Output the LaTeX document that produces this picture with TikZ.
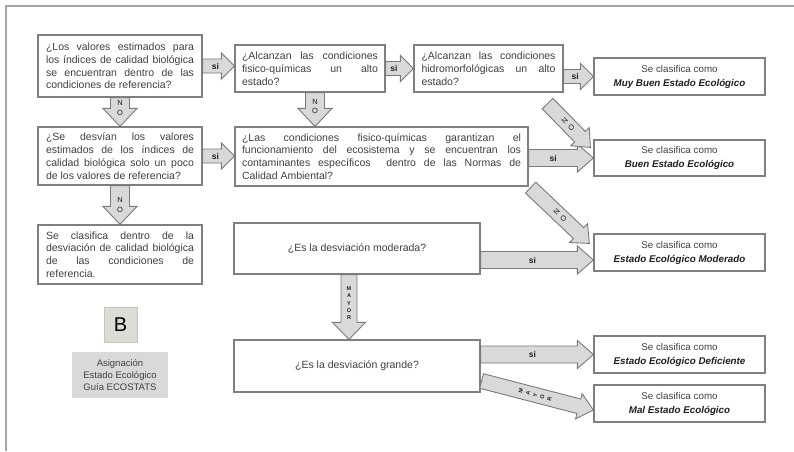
\documentclass[tikz,border=0pt]{standalone}
\usepackage{fontspec}
\setmainfont{Liberation Sans}
\usetikzlibrary{calc}

\definecolor{edge}{HTML}{808080}
\definecolor{txt}{HTML}{404040}
\definecolor{dark}{HTML}{202020}
\definecolor{arrowfill}{HTML}{D9D9D9}
\definecolor{arrowedge}{HTML}{7A7A7A}
\definecolor{framegray}{HTML}{A6A6A6}
\definecolor{keyfill}{HTML}{DCDCD4}
\definecolor{keyedge}{HTML}{C4C4BC}

% fonts
\newcommand{\qfont}{\fontsize{10.5}{12.8}\selectfont}
\newcommand{\rfont}{\fontsize{9.8}{14}\selectfont}
% stacked lines of a given width: justified lines and a last (ragged) line
\newcommand{\stack}[2]{\vbox{\hsize=#1\relax\spaceskip=0.28em plus 3em minus 0.05em\relax #2}}
\newcommand{\jl}[1]{\hbox to \hsize{#1}}
\newcommand{\lastline}[1]{\hbox{#1}}

\tikzset{
  qbox/.style={draw=edge, line width=1.2pt, fill=white, inner sep=0pt, font=\qfont, text=txt},
  rbox/.style={draw=edge, line width=1.2pt, fill=white, inner sep=0pt, align=center,
               font=\rfont, text=txt, minimum width=171pt, minimum height=37pt},
  barrow/.style={draw=arrowedge, fill=arrowfill, line width=0.9pt, line join=miter},
  arrowlabel/.style={inner sep=0pt, text=dark, align=center},
  silabel/.style={arrowlabel, font=\bfseries\fontsize{8.5}{9}\selectfont},
  nolabel/.style={arrowlabel, font=\fontsize{7.5}{9.5}\selectfont},
  mayorlabel/.style={arrowlabel, font=\bfseries\fontsize{5.5}{7.4}\selectfont},
}

% block arrow: #1 start, #2 tip, #3 shaft half width, #4 head half width,
% #5 head length, #6 label style, #7 label text, #8 label rotation, #9 label position
\newcommand{\blockarrow}[9]{%
  \coordinate (ba-s) at #1;
  \coordinate (ba-e) at #2;
  \coordinate (ba-h) at ($(ba-e)!#5!(ba-s)$);
  \draw[barrow] ($(ba-s)!#3!90:(ba-e)$) -- ($(ba-h)!#3!-90:(ba-s)$)
    -- ($(ba-h)!#4!-90:(ba-s)$) -- (ba-e) -- ($(ba-h)!#4!90:(ba-s)$)
    -- ($(ba-h)!#3!90:(ba-s)$) -- ($(ba-s)!#3!-90:(ba-e)$) -- cycle;
  \node[#6, rotate=#8] at ($(ba-s)!#9!(ba-e)$) {#7};
}

\begin{document}
\begin{tikzpicture}[x=1pt, y=-1pt]
\useasboundingbox (0,0) rectangle (794,451);
\fill[white] (0,0) rectangle (794,451);

% page frame
\draw[framegray, line width=1.2pt] (6,451) -- (6,6) -- (794,6);

% question boxes
\node[qbox, minimum width=164pt, minimum height=62pt] (b1) at (120,66)
  {\stack{148pt}{\jl{¿Los valores estimados para}\jl{los índices de calidad biológica}%
   \jl{se encuentran dentro de las}\lastline{condiciones de referencia?}}};
\node[qbox, minimum width=150pt, minimum height=47pt] (b2) at (310,68.5)
  {\stack{136pt}{\jl{¿Alcanzan las condiciones}\jl{fisico-químicas un alto}\lastline{estado?}}};
\node[qbox, minimum width=149pt, minimum height=47pt] (b3) at (488.5,68.5)
  {\stack{134pt}{\jl{¿Alcanzan las condiciones}\jl{hidromorfológicas un alto}\lastline{estado?}}};
\node[qbox, minimum width=164pt, minimum height=58pt] (b4) at (120,156)
  {\stack{148pt}{\jl{¿Se desvían los valores}\jl{estimados de los índices de}%
   \jl{calidad biológica solo un poco}\lastline{de los valores de referencia?}}};
\node[qbox, minimum width=293pt, minimum height=59pt] (b5) at (381.5,156.5)
  {\stack{279pt}{\jl{¿Las condiciones fisico-químicas garantizan el}%
   \jl{funcionamiento del ecosistema y se encuentran los}%
   \jl{contaminantes específicos \ dentro de las Normas de}\lastline{Calidad Ambiental?}}};
\node[qbox, minimum width=164pt, minimum height=59pt] (b6) at (120,254.5)
  {\stack{148pt}{\jl{Se clasifica dentro de la}\jl{desviación de calidad biológica}%
   \jl{de las condiciones de}\lastline{referencia.}}};
\node[qbox, minimum width=246pt, minimum height=51pt] (b7) at (357,248.5)
  {¿Es la desviación moderada?};
\node[qbox, minimum width=246pt, minimum height=52pt] (b8) at (357,366)
  {¿Es la desviación grande?};

% classification boxes
\node[rbox] (r1) at (679.5,76.5)
  {Se clasifica como\\{\color{dark}\bfseries\itshape Muy Buen Estado Ecológico}};
\node[rbox, minimum height=36pt] (r2) at (679.5,158)
  {Se clasifica como\\{\color{dark}\bfseries\itshape Buen Estado Ecológico}};
\node[rbox] (r3) at (679.5,252.5)
  {Se clasifica como\\{\color{dark}\bfseries\itshape Estado Ecológico Moderado}};
\node[rbox] (r4) at (679.5,354.5)
  {Se clasifica como\\{\color{dark}\bfseries\itshape Estado Ecológico Deficiente}};
\node[rbox] (r5) at (679.5,403.5)
  {Se clasifica como\\{\color{dark}\bfseries\itshape Mal Estado Ecológico}};

% legend
\node[draw=keyedge, fill=keyfill, line width=0.8pt, minimum width=33pt, minimum height=35pt,
      inner sep=0pt, text=black, font=\fontsize{20}{22}\selectfont] (key) at (120.5,324.5) {B};
\node[fill=arrowfill, minimum width=96pt, minimum height=46pt, inner sep=0pt, align=center,
      text=txt, font=\fontsize{9.5}{12.3}\selectfont] (guide) at (120,375)
  {Asignación\\Estado Ecológico\\Guía ECOSTATS};

% "si" arrows
\blockarrow{(b1.east)}{(b1.east -| b2.west)}{7pt}{13pt}{13pt}{silabel}{si}{0}{0.4}
\blockarrow{(b2.east)}{(b2.east -| b3.west)}{7pt}{13pt}{13pt}{silabel}{si}{0}{0.3}
\blockarrow{(b3.east |- r1.west)}{(r1.west)}{7pt}{13pt}{13pt}{silabel}{si}{0}{0.39}
\blockarrow{(b4.east)}{(b4.east -| b5.west)}{7pt}{13pt}{13pt}{silabel}{si}{0}{0.4}
\blockarrow{(b5.east |- r2.west)}{(r2.west)}{8.5pt}{14pt}{16pt}{silabel}{si}{0}{0.38}
\coordinate (m3) at ($(r3.west)+(0,7.5)$);
\blockarrow{(b7.east |- m3)}{(m3)}{8.5pt}{14pt}{16pt}{silabel}{si}{0}{0.46}
\blockarrow{(b8.east |- r4.west)}{(r4.west)}{8.5pt}{14pt}{16pt}{silabel}{si}{0}{0.46}

% "NO" arrows
\blockarrow{(b1.south)}{(b1.south |- b4.north)}{9.5pt}{17pt}{18pt}{nolabel}{N\\O}{0}{0.36}
\coordinate (n2) at ($(b2.south)+(5,0)$);
\blockarrow{(n2)}{(n2 |- b5.north)}{9.5pt}{17pt}{18pt}{nolabel}{N\\O}{0}{0.41}
\blockarrow{(b4.south)}{(b4.south |- b6.north)}{9.5pt}{17pt}{18pt}{nolabel}{N\\O}{0}{0.5}
\coordinate (d1s) at ($(b3.south east)+(-16,11)$);
\coordinate (d1e) at ($(r2.north west)+(-3,8)$);
\blockarrow{(d1s)}{(d1e)}{7.5pt}{13pt}{15pt}{nolabel}{N\\O}{44.4}{0.48}
\coordinate (d2s) at ($(b5.south east)+(2,1)$);
\coordinate (d2e) at ($(r3.north west)+(-4,10)$);
\blockarrow{(d2s)}{(d2e)}{7.5pt}{13pt}{15pt}{nolabel}{N\\O}{46.5}{0.5}

% "MAYOR" arrows
\coordinate (my) at ($(b7.south)+(-8,0)$);
\blockarrow{(my)}{(my |- b8.north)}{8pt}{16.5pt}{17pt}{mayorlabel}{M\\A\\Y\\O\\R}{0}{0.44}
\coordinate (d3s) at ($(b8.east)+(1,15)$);
\coordinate (d3e) at ($(r5.west)+(0,6.5)$);
\blockarrow{(d3s)}{(d3e)}{7.5pt}{13pt}{15pt}{mayorlabel}{M\\A\\Y\\O\\R}{75.6}{0.48}

\end{tikzpicture}
\end{document}
